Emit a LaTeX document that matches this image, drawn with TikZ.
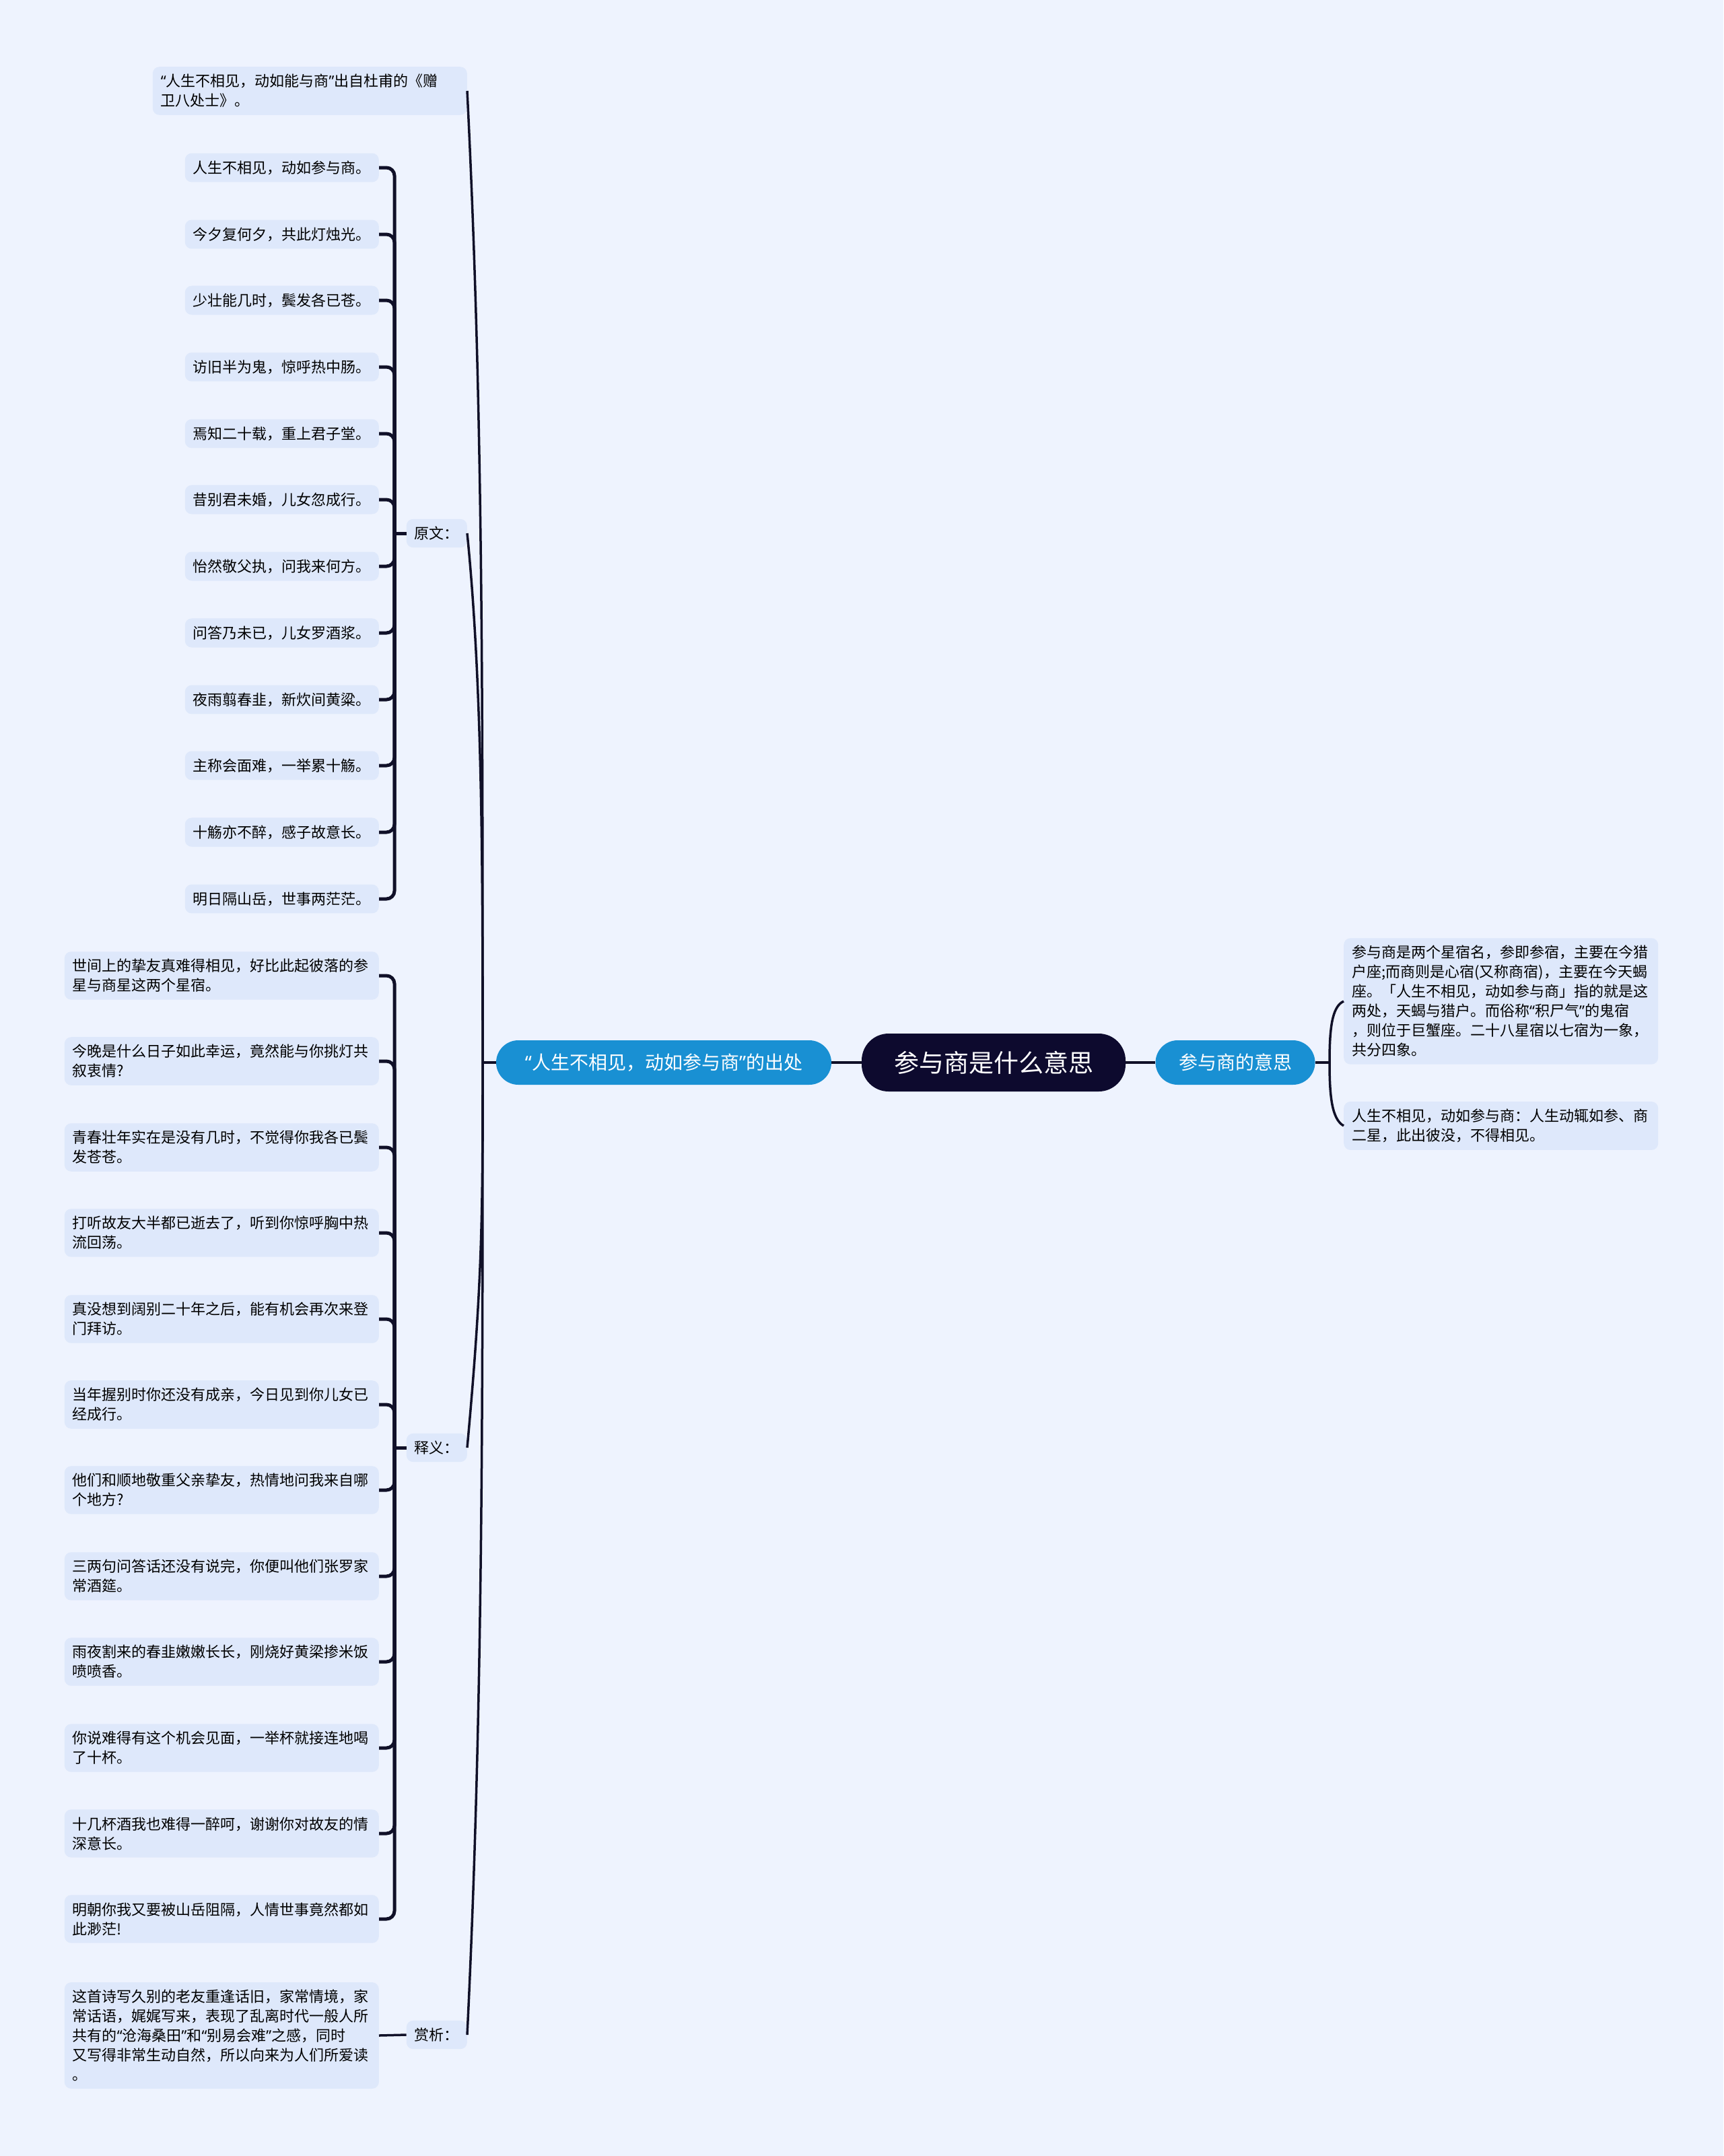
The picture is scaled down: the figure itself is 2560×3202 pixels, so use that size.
\documentclass[tikz,border=0pt]{standalone}
\usepackage{fontspec}
\setmainfont{Noto Sans CJK SC}
\newfontfamily\quotefont{Noto Sans}
\newcommand{\qopen}{{\quotefont “}}
\newcommand{\qclose}{{\quotefont ”}}
\definecolor{bgblue}{RGB}{238,243,254}
\definecolor{leafblue}{RGB}{222,232,251}
\definecolor{branchblue}{RGB}{25,144,211}
\definecolor{rootnavy}{RGB}{13,10,46}
\definecolor{linenavy}{RGB}{16,16,40}
\begin{document}
\begin{tikzpicture}[x=1bp, y=-1bp,
        leaf/.style={fill=leafblue, rounded corners=10bp, inner xsep=12bp, inner ysep=11bp, text width=443bp, align=left, font=\fontsize{22bp}{29bp}\selectfont},
        verse/.style={leaf, text width=264bp},
        hub/.style={fill=leafblue, rounded corners=10bp, inner xsep=12bp, inner ysep=11bp, font=\fontsize{22bp}{29bp}\selectfont},
        branch/.style={fill=branchblue, text=white, rounded corners=33bp, minimum height=66bp, font=\fontsize{28bp}{34bp}\selectfont},
        rootnode/.style={fill=rootnavy, text=white, rounded corners=40bp, minimum height=86bp, minimum width=392bp, font=\fontsize{37bp}{44bp}\selectfont},
        link/.style={draw=linenavy, line width=3.5bp},
        brace/.style={draw=linenavy, line width=5bp, rounded corners=12bp}]
        \fill[bgblue] (0,0) rectangle (2560,3202);
        \useasboundingbox (0,0) rectangle (2560,3202);
        \node[rootnode] (root) at (1476,1578) {参与商是什么意思};
        \node[branch, minimum width=498bp] (origin) at (986,1578) {\qopen 人生不相见，动如参与商\qclose 的出处};
        \node[branch, minimum width=237bp] (meaning) at (1835,1578) {参与商的意思};
        \node[leaf, anchor=west] (star) at (1996,1487) {参与商是两个星宿名，参即参宿，主要在今猎\\户座;而商则是心宿(又称商宿)，主要在今天蝎\\座。「人生不相见，动如参与商」指的就是这\\两处，天蝎与猎户。而俗称\qopen 积尸气\qclose 的鬼宿\\，则位于巨蟹座。二十八星宿以七宿为一象，\\共分四象。};
        \node[leaf, anchor=west] (rise) at (1996,1672) {人生不相见，动如参与商：人生动辄如参、商\\二星，此出彼没，不得相见。};
        \node[leaf, anchor=east] (poet) at (694,135) {\qopen 人生不相见，动如能与商\qclose 出自杜甫的《赠\\卫八处士》。};
        \node[hub, anchor=east] (yuanwen) at (694,792) {原文：};
        \node[hub, anchor=east] (shiyi) at (694,2150) {释义：};
        \node[hub, anchor=east] (shangxi) at (694,3022) {赏析：};
        \node[verse, anchor=east] (v1) at (563,249) {人生不相见，动如参与商。};
        \node[verse, anchor=east] (v2) at (563,348) {今夕复何夕，共此灯烛光。};
        \node[verse, anchor=east] (v3) at (563,446) {少壮能几时，鬓发各已苍。};
        \node[verse, anchor=east] (v4) at (563,545) {访旧半为鬼，惊呼热中肠。};
        \node[verse, anchor=east] (v5) at (563,644) {焉知二十载，重上君子堂。};
        \node[verse, anchor=east] (v6) at (563,742) {昔别君未婚，儿女忽成行。};
        \node[verse, anchor=east] (v7) at (563,841) {怡然敬父执，问我来何方。};
        \node[verse, anchor=east] (v8) at (563,940) {问答乃未已，儿女罗酒浆。};
        \node[verse, anchor=east] (v9) at (563,1039) {夜雨翦春韭，新炊间黄粱。};
        \node[verse, anchor=east] (v10) at (563,1137) {主称会面难，一举累十觞。};
        \node[verse, anchor=east] (v11) at (563,1236) {十觞亦不醉，感子故意长。};
        \node[verse, anchor=east] (v12) at (563,1335) {明日隔山岳，世事两茫茫。};
        \node[leaf, anchor=east] (s1) at (563,1449) {世间上的挚友真难得相见，好比此起彼落的参\\星与商星这两个星宿。};
        \node[leaf, anchor=east] (s2) at (563,1576) {今晚是什么日子如此幸运，竟然能与你挑灯共\\叙衷情?};
        \node[leaf, anchor=east] (s3) at (563,1704) {青春壮年实在是没有几时，不觉得你我各已鬓\\发苍苍。};
        \node[leaf, anchor=east] (s4) at (563,1831) {打听故友大半都已逝去了，听到你惊呼胸中热\\流回荡。};
        \node[leaf, anchor=east] (s5) at (563,1959) {真没想到阔别二十年之后，能有机会再次来登\\门拜访。};
        \node[leaf, anchor=east] (s6) at (563,2086) {当年握别时你还没有成亲，今日见到你儿女已\\经成行。};
        \node[leaf, anchor=east] (s7) at (563,2213) {他们和顺地敬重父亲挚友，热情地问我来自哪\\个地方?};
        \node[leaf, anchor=east] (s8) at (563,2341) {三两句问答话还没有说完，你便叫他们张罗家\\常酒筵。};
        \node[leaf, anchor=east] (s9) at (563,2468) {雨夜割来的春韭嫩嫩长长，刚烧好黄梁掺米饭\\喷喷香。};
        \node[leaf, anchor=east] (s10) at (563,2596) {你说难得有这个机会见面，一举杯就接连地喝\\了十杯。};
        \node[leaf, anchor=east] (s11) at (563,2723) {十几杯酒我也难得一醉呵，谢谢你对故友的情\\深意长。};
        \node[leaf, anchor=east] (s12) at (563,2850) {明朝你我又要被山岳阻隔，人情世事竟然都如\\此渺茫!};
        \node[leaf, anchor=east] (review) at (563,3023) {这首诗写久别的老友重逢话旧，家常情境，家\\常话语，娓娓写来，表现了乱离时代一般人所\\共有的\qopen 沧海桑田\qclose 和\qopen 别易会难\qclose 之感，同时\\又写得非常生动自然，所以向来为人们所爱读\\。};
        \coordinate (jl) at (717,1578);
        \coordinate (jr) at (1975,1578);
        \coordinate (jy) at (586,792);
        \coordinate (js) at (586,2150);
        \draw[link] (root.west) -- (origin.east);
        \draw[link] (root.east) -- (meaning.west);
        \draw[link] (meaning.east) -- (jr);
        \draw[link] (jr) .. controls (1975,1530) and (1978,1495) .. (star.west);
        \draw[link] (jr) .. controls (1975,1626) and (1978,1662) .. (rise.west);
        \draw[link] (origin.west) -- (jl);
        \draw[link] (jl) .. controls (717,1000) and (717,600) .. (poet.east);
        \draw[link] (jl) .. controls (717,1300) and (717,1020) .. (yuanwen.east);
        \draw[link] (jl) .. controls (717,1800) and (717,1900) .. (shiyi.east);
        \draw[link] (jl) .. controls (717,2100) and (717,2550) .. (shangxi.east);
        \draw[brace] (yuanwen.west) -- (jy);
        \draw[brace] (jy) |- (v1.east);
        \draw[brace] (jy) |- (v2.east);
        \draw[brace] (jy) |- (v3.east);
        \draw[brace] (jy) |- (v4.east);
        \draw[brace] (jy) |- (v5.east);
        \draw[brace] (jy) |- (v6.east);
        \draw[brace] (jy) |- (v7.east);
        \draw[brace] (jy) |- (v8.east);
        \draw[brace] (jy) |- (v9.east);
        \draw[brace] (jy) |- (v10.east);
        \draw[brace] (jy) |- (v11.east);
        \draw[brace] (jy) |- (v12.east);
        \draw[brace] (shiyi.west) -- (js);
        \draw[brace] (js) |- (s1.east);
        \draw[brace] (js) |- (s2.east);
        \draw[brace] (js) |- (s3.east);
        \draw[brace] (js) |- (s4.east);
        \draw[brace] (js) |- (s5.east);
        \draw[brace] (js) |- (s6.east);
        \draw[brace] (js) |- (s7.east);
        \draw[brace] (js) |- (s8.east);
        \draw[brace] (js) |- (s9.east);
        \draw[brace] (js) |- (s10.east);
        \draw[brace] (js) |- (s11.east);
        \draw[brace] (js) |- (s12.east);
        \draw[link] (shangxi.west) -- (review.east);
\end{tikzpicture}
\end{document}
